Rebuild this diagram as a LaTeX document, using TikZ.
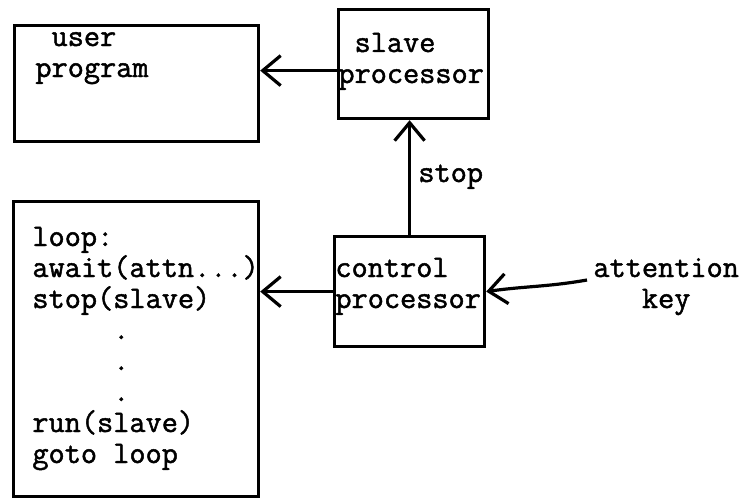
\documentclass[tikz,border=0pt]{standalone}
\usepackage{fontspec}
\newfontfamily\twfont{Latin Modern Mono}[FakeBold=1.5]
\usetikzlibrary{arrows.meta,positioning}
\begin{document}
\begin{tikzpicture}[x=0.5pt,y=-0.5pt,
   box/.style={draw,line width=1.6pt,inner sep=0pt,anchor=north west},
   txt/.style={font=\fontsize{15.7}{15.5}\selectfont\twfont,inner sep=0pt,align=left,anchor=base west},
   flow/.style={line width=1.6pt,-{Straight Barb[length=9pt,width=15pt,line width=1.6pt]}}]
\useasboundingbox (0,0) rectangle (740,498);
% the four boxes
\node[box,minimum width=122pt,minimum height=58pt] (user) at (13,24) {};
\node[box,minimum width=75pt,minimum height=54.5pt] (slave) at (337,8) {};
\node[box,minimum width=75pt,minimum height=55pt] (control) at (333,235) {};
\node[box,minimum width=122.5pt,minimum height=147.5pt] (prog) at (12,200) {};
% texts (placed at the baseline of their last line)
\node[txt] (usertxt) at (35,77) {\hphantom{x}user\\program};
\node[txt] (slavetxt) at (338,83) {\hphantom{x}slave\\processor};
\node[txt] (controltxt) at (335,308) {control\\processor};
\node[txt] (progtxt) at (32,463) {loop:\\await(attn...)\\stop(slave)\\
   \hphantom{xxxxx}.\\\hphantom{xxxxx}.\\\hphantom{xxxxx}.\\run(slave)\\goto loop};
\node[txt] (stoptxt) at (418,182) {stop};
\node[txt,align=center] (attn) at (593,308) {attention\\key};
% connectors
\draw[flow] (slave.west) ++(0,6.5) coordinate (s1) -- (s1 -| user.east);
\draw[flow] (control.west) -- (control.west -| prog.east);
\draw[flow] (control.north) -- (control.north |- slave.south);
\draw[flow] ([shift={(-6,-28)}]attn.base west) to[out=190,in=8] (control.east);
\end{tikzpicture}
\end{document}
